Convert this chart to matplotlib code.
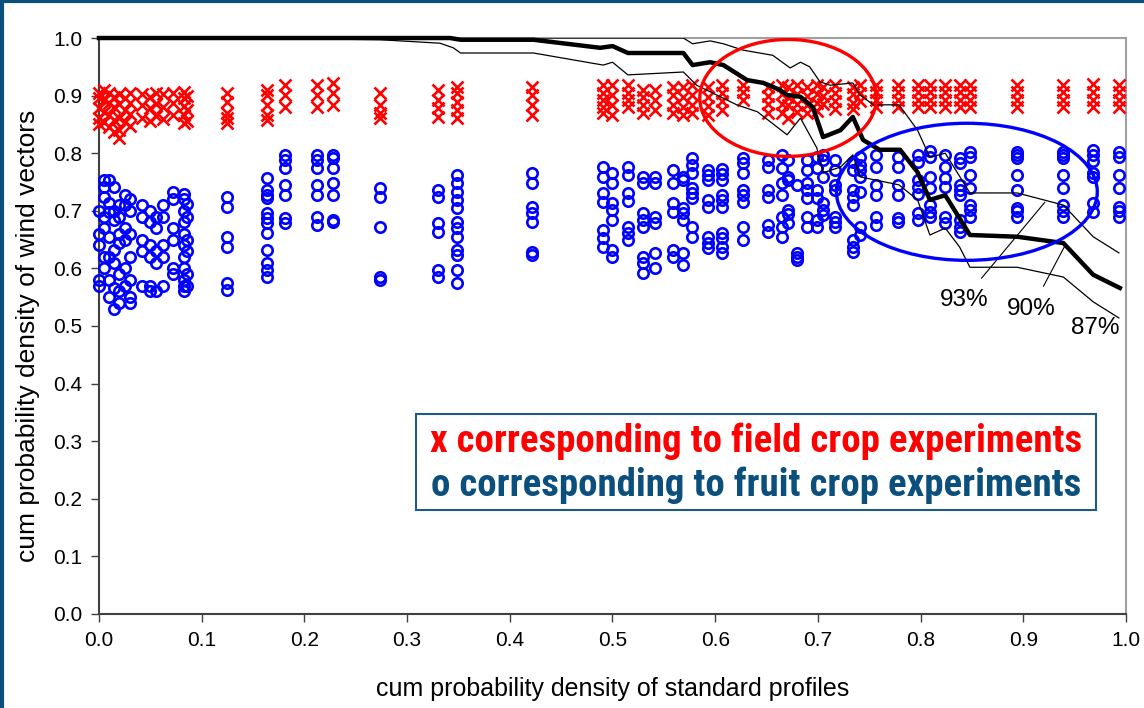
import numpy as np
import matplotlib.pyplot as plt
from matplotlib.patches import Ellipse, Rectangle

plt.rcParams['font.family'] = ['Liberation Sans', 'DejaVu Sans']

# columns of experiments: x position and the y values found at that x
col_x = [0.000, 0.005, 0.010, 0.015, 0.020, 0.025, 0.030, 0.042, 0.050, 0.056,
         0.062, 0.072, 0.083, 0.086, 0.125, 0.164, 0.181, 0.212, 0.228, 0.274,
         0.330, 0.349, 0.422, 0.491, 0.500, 0.515, 0.530, 0.541, 0.559, 0.569,
         0.577, 0.593, 0.607, 0.627, 0.651, 0.665, 0.671, 0.680, 0.689, 0.699,
         0.705, 0.717, 0.734, 0.741, 0.757, 0.778, 0.797, 0.809, 0.824, 0.838,
         0.848, 0.894, 0.939, 0.968, 0.993]

field_y = [
    [0.905, 0.895, 0.878, 0.862, 0.850],
    [0.910, 0.892, 0.872, 0.855],
    [0.905, 0.888, 0.866, 0.845],
    [0.898, 0.880, 0.858, 0.836],
    [0.903, 0.885, 0.862, 0.840, 0.826],
    [0.896, 0.875, 0.855],
    [0.905, 0.888, 0.868, 0.848],
    [0.902, 0.884, 0.862],
    [0.898, 0.878, 0.856],
    [0.904, 0.886, 0.865],
    [0.902, 0.880, 0.860],
    [0.905, 0.888, 0.866],
    [0.906, 0.895, 0.882, 0.866, 0.852],
    [0.900, 0.875, 0.856],
    [0.905, 0.889, 0.870, 0.861, 0.852],
    [0.910, 0.901, 0.884, 0.866, 0.858],
    [0.918, 0.901, 0.880],
    [0.918, 0.901, 0.880],
    [0.922, 0.905, 0.884],
    [0.905, 0.884, 0.870, 0.861],
    [0.910, 0.892, 0.878, 0.863],
    [0.915, 0.905, 0.889, 0.875, 0.861],
    [0.915, 0.901, 0.884, 0.866],
    [0.918, 0.905, 0.892, 0.880, 0.870],
    [0.918, 0.901, 0.884, 0.866],
    [0.918, 0.905, 0.892, 0.880],
    [0.910, 0.898, 0.884, 0.870],
    [0.910, 0.892, 0.875],
    [0.915, 0.901, 0.884, 0.870],
    [0.915, 0.898, 0.880, 0.866],
    [0.918, 0.901, 0.884, 0.870],
    [0.915, 0.898, 0.882, 0.866],
    [0.918, 0.904, 0.890, 0.875],
    [0.918, 0.906, 0.892],
    [0.915, 0.900, 0.885, 0.870],
    [0.918, 0.902, 0.886, 0.870],
    [0.915, 0.898, 0.884, 0.862],
    [0.918, 0.902, 0.886, 0.872],
    [0.915, 0.900, 0.884, 0.870],
    [0.918, 0.903, 0.888, 0.874],
    [0.915, 0.900, 0.886],
    [0.918, 0.904, 0.890, 0.876],
    [0.915, 0.902, 0.888, 0.876],
    [0.918, 0.905, 0.890],
    [0.918, 0.906, 0.892, 0.880],
    [0.918, 0.906, 0.892, 0.880],
    [0.918, 0.906, 0.892, 0.880],
    [0.918, 0.906, 0.892, 0.880],
    [0.918, 0.906, 0.892, 0.880],
    [0.918, 0.906, 0.892, 0.880],
    [0.918, 0.906, 0.892, 0.880],
    [0.918, 0.906, 0.892, 0.880],
    [0.918, 0.906, 0.892, 0.880],
    [0.920, 0.906, 0.892, 0.880],
    [0.918, 0.906, 0.892, 0.880],
]

fruit_y = [
    [0.700, 0.660, 0.640, 0.580, 0.570],
    [0.753, 0.741, 0.724, 0.690, 0.670, 0.620, 0.600],
    [0.753, 0.714, 0.698, 0.655, 0.620, 0.580, 0.550],
    [0.741, 0.700, 0.684, 0.632, 0.610, 0.566, 0.530],
    [0.710, 0.690, 0.660, 0.644, 0.590, 0.560, 0.540],
    [0.728, 0.710, 0.670, 0.650, 0.600, 0.570],
    [0.720, 0.700, 0.660, 0.620, 0.580, 0.550, 0.540],
    [0.710, 0.690, 0.650, 0.630, 0.570],
    [0.700, 0.680, 0.640, 0.620, 0.570, 0.560],
    [0.690, 0.670, 0.630, 0.610, 0.560],
    [0.710, 0.690, 0.640, 0.620, 0.570],
    [0.732, 0.720, 0.670, 0.650, 0.600, 0.590],
    [0.730, 0.720, 0.700, 0.680, 0.660, 0.640, 0.620, 0.600, 0.580, 0.570, 0.560],
    [0.712, 0.690, 0.650, 0.630, 0.590, 0.570],
    [0.724, 0.707, 0.655, 0.637, 0.575, 0.563],
    [0.757, 0.736, 0.727, 0.722, 0.696, 0.687, 0.679, 0.661, 0.632, 0.609, 0.597, 0.585],
    [0.797, 0.788, 0.774, 0.745, 0.727, 0.687, 0.679],
    [0.797, 0.788, 0.774, 0.745, 0.727, 0.690, 0.676],
    [0.797, 0.792, 0.774, 0.748, 0.727, 0.684, 0.681],
    [0.740, 0.724, 0.672, 0.585, 0.580],
    [0.736, 0.724, 0.679, 0.663, 0.597, 0.585],
    [0.762, 0.748, 0.733, 0.719, 0.705, 0.681, 0.670, 0.655, 0.632, 0.623, 0.597, 0.575],
    [0.766, 0.748, 0.707, 0.696, 0.681, 0.628, 0.623],
    [0.776, 0.759, 0.731, 0.715, 0.667, 0.653, 0.637],
    [0.766, 0.748, 0.714, 0.701, 0.684, 0.632, 0.620],
    [0.776, 0.762, 0.731, 0.717, 0.672, 0.661, 0.649],
    [0.759, 0.748, 0.696, 0.684, 0.672, 0.620, 0.609, 0.592],
    [0.759, 0.748, 0.690, 0.678, 0.626, 0.600],
    [0.771, 0.748, 0.714, 0.698, 0.632, 0.620],
    [0.759, 0.753, 0.705, 0.696, 0.684, 0.627, 0.606],
    [0.792, 0.780, 0.766, 0.740, 0.731, 0.722, 0.672, 0.655],
    [0.771, 0.762, 0.753, 0.719, 0.707, 0.655, 0.644, 0.635],
    [0.773, 0.764, 0.753, 0.727, 0.719, 0.707, 0.661, 0.652, 0.638, 0.626],
    [0.792, 0.783, 0.766, 0.736, 0.727, 0.715, 0.672, 0.649],
    [0.788, 0.776, 0.736, 0.724, 0.675, 0.663],
    [0.797, 0.774, 0.748, 0.727, 0.689, 0.672, 0.655],
    [0.788, 0.759, 0.753, 0.701, 0.695, 0.678],
    [0.745, 0.627, 0.620, 0.615],
    [0.788, 0.771, 0.748, 0.736, 0.722, 0.689, 0.672],
    [0.794, 0.774, 0.736, 0.722, 0.684, 0.672],
    [0.797, 0.788, 0.759, 0.714, 0.701, 0.693],
    [0.788, 0.771, 0.745, 0.736, 0.689, 0.681, 0.672],
    [0.785, 0.771, 0.736, 0.724, 0.710, 0.649, 0.637, 0.628],
    [0.794, 0.780, 0.771, 0.759, 0.733, 0.672, 0.658],
    [0.797, 0.776, 0.745, 0.727, 0.690, 0.675],
    [0.794, 0.776, 0.745, 0.727, 0.687, 0.681],
    [0.797, 0.785, 0.753, 0.742, 0.730, 0.696, 0.684],
    [0.803, 0.794, 0.759, 0.739, 0.710, 0.698, 0.690],
    [0.797, 0.776, 0.757, 0.741, 0.689, 0.679],
    [0.792, 0.783, 0.745, 0.736, 0.727, 0.684, 0.672, 0.663],
    [0.802, 0.794, 0.762, 0.740, 0.710, 0.701, 0.689],
    [0.802, 0.797, 0.791, 0.762, 0.736, 0.705, 0.699, 0.690],
    [0.802, 0.797, 0.791, 0.762, 0.740, 0.710, 0.699, 0.690],
    [0.806, 0.797, 0.786, 0.765, 0.759, 0.713, 0.698],
    [0.802, 0.794, 0.762, 0.739, 0.707, 0.699, 0.690],
]

# percentile curves
p90_x = [0.000, 0.342, 0.352, 0.423, 0.488, 0.500, 0.515, 0.569, 0.578, 0.595,
         0.608, 0.631, 0.647, 0.663, 0.670, 0.683, 0.695, 0.705, 0.722, 0.734,
         0.744, 0.760, 0.780, 0.797, 0.809, 0.824, 0.848, 0.894, 0.939, 0.968, 0.994]
p90_y = [1.000, 1.000, 0.997, 0.997, 0.983, 0.986, 0.974, 0.974, 0.953, 0.958,
         0.953, 0.927, 0.922, 0.910, 0.901, 0.898, 0.880, 0.828, 0.840, 0.863,
         0.823, 0.806, 0.806, 0.767, 0.719, 0.727, 0.658, 0.655, 0.644, 0.589, 0.566]

p93_x = [0.000, 0.569, 0.578, 0.595, 0.608, 0.627, 0.656, 0.673, 0.683, 0.692,
         0.702, 0.712, 0.734, 0.741, 0.754, 0.779, 0.797, 0.809, 0.824, 0.848,
         0.894, 0.939, 0.968, 0.993]
p93_y = [1.000, 1.000, 0.990, 0.995, 0.990, 0.979, 0.970, 0.948, 0.958, 0.950,
         0.924, 0.918, 0.922, 0.901, 0.884, 0.884, 0.840, 0.793, 0.800, 0.731,
         0.731, 0.710, 0.655, 0.627]

p87_x = [0.000, 0.147, 0.274, 0.332, 0.345, 0.352, 0.423, 0.491, 0.500, 0.515,
         0.569, 0.582, 0.621, 0.641, 0.670, 0.683, 0.699, 0.705, 0.722, 0.734,
         0.741, 0.779, 0.797, 0.809, 0.824, 0.838, 0.848, 0.894, 0.939, 0.968, 0.993]
p87_y = [1.000, 1.000, 0.997, 0.991, 0.983, 0.974, 0.974, 0.953, 0.958, 0.936,
         0.941, 0.918, 0.884, 0.872, 0.832, 0.861, 0.809, 0.766, 0.776, 0.797,
         0.759, 0.745, 0.719, 0.658, 0.670, 0.637, 0.602, 0.602, 0.585, 0.542, 0.514]

fig = plt.figure(figsize=(11.44, 7.08), dpi=100)
ax = fig.add_axes([0.0865, 0.1328, 0.8978, 0.8135])

fx, fy, ox, oy = [], [], [], []
for x, rs, bs in zip(col_x, field_y, fruit_y):
    fx += [x] * len(rs)
    fy += rs
    ox += [x] * len(bs)
    oy += bs

ax.plot(ox, oy, 'o', ms=7.5, mfc='none', mec='#0000ff', mew=1.9, clip_on=False, zorder=3)
ax.plot(fx, fy, 'x', ms=9, color='#ff0000', mew=1.9, clip_on=False, zorder=3)

ax.plot(p93_x, p93_y, color='black', lw=0.9, zorder=4)
ax.plot(p87_x, p87_y, color='black', lw=0.9, zorder=4)
ax.plot(p90_x, p90_y, color='black', lw=3.2, zorder=5, clip_on=False)

ax.add_patch(Ellipse((0.671, 0.896), 0.172, 0.203, fill=False, ec='#ff0000', lw=2.4, zorder=6))
ax.add_patch(Ellipse((0.845, 0.733), 0.254, 0.238, fill=False, ec='#0000ff', lw=2.4, zorder=6))

ax.annotate('93%', xy=(0.921, 0.715), xytext=(0.842, 0.546), fontsize=17.5,
            ha='center', va='center', arrowprops=dict(arrowstyle='-', lw=0.8,
            color='black', shrinkA=7, shrinkB=0))
ax.annotate('90%', xy=(0.941, 0.641), xytext=(0.908, 0.530), fontsize=17.5,
            ha='center', va='center', arrowprops=dict(arrowstyle='-', lw=0.8,
            color='black', shrinkA=7, shrinkB=0))
ax.text(0.970, 0.497, '87%', fontsize=17.5, ha='center', va='center')

ax.set_xlim(0, 1)
ax.set_ylim(0, 1)
ax.set_xticks(np.arange(0, 1.01, 0.1))
ax.set_yticks(np.arange(0, 1.01, 0.1))
ax.set_xticklabels(['%.1f' % v for v in np.arange(0, 1.01, 0.1)])
ax.set_yticklabels(['%.1f' % v for v in np.arange(0, 1.01, 0.1)])
ax.tick_params(direction='out', length=6, width=1, labelsize=15, color='#404040', pad=6)
for s in ['left', 'bottom']:
    ax.spines[s].set_color('#404040')
    ax.spines[s].set_linewidth(1.5)
for s in ['top', 'right']:
    ax.spines[s].set_color('#a0a0a0')
    ax.spines[s].set_linewidth(1.5)

ax.set_xlabel('cum probability density of standard profiles', fontsize=18, labelpad=20)
ax.set_ylabel('cum probability density of wind vectors', fontsize=19)
ax.yaxis.set_label_coords(-0.057, 0.483)

# legend box
leg_font = ['Roboto Condensed', 'Liberation Sans Narrow', 'Liberation Sans']
ax.add_patch(Rectangle((0.309, 0.180), 0.662, 0.167, transform=ax.transAxes, fill=False,
                       ec='#1f5a82', lw=1.5, zorder=7))
ax.text(0.640, 0.300, 'x corresponding to field crop experiments', transform=ax.transAxes,
        fontsize=28, fontweight='bold', fontstretch='condensed', color='#ff0000',
        ha='center', va='center', family=leg_font, zorder=8)
ax.text(0.640, 0.224, 'o corresponding to fruit crop experiments', transform=ax.transAxes,
        fontsize=28, fontweight='bold', fontstretch='condensed', color='#0b4f7c',
        ha='center', va='center', family=leg_font, zorder=8)

# outer frame at left and top
fig.add_artist(plt.Line2D([0.0015, 0.0015], [0, 1], transform=fig.transFigure, color='#0b4f7c', lw=3))
fig.add_artist(plt.Line2D([0, 1], [0.9985, 0.9985], transform=fig.transFigure, color='#0b4f7c', lw=3))

fig.savefig('out.png', dpi=100)
